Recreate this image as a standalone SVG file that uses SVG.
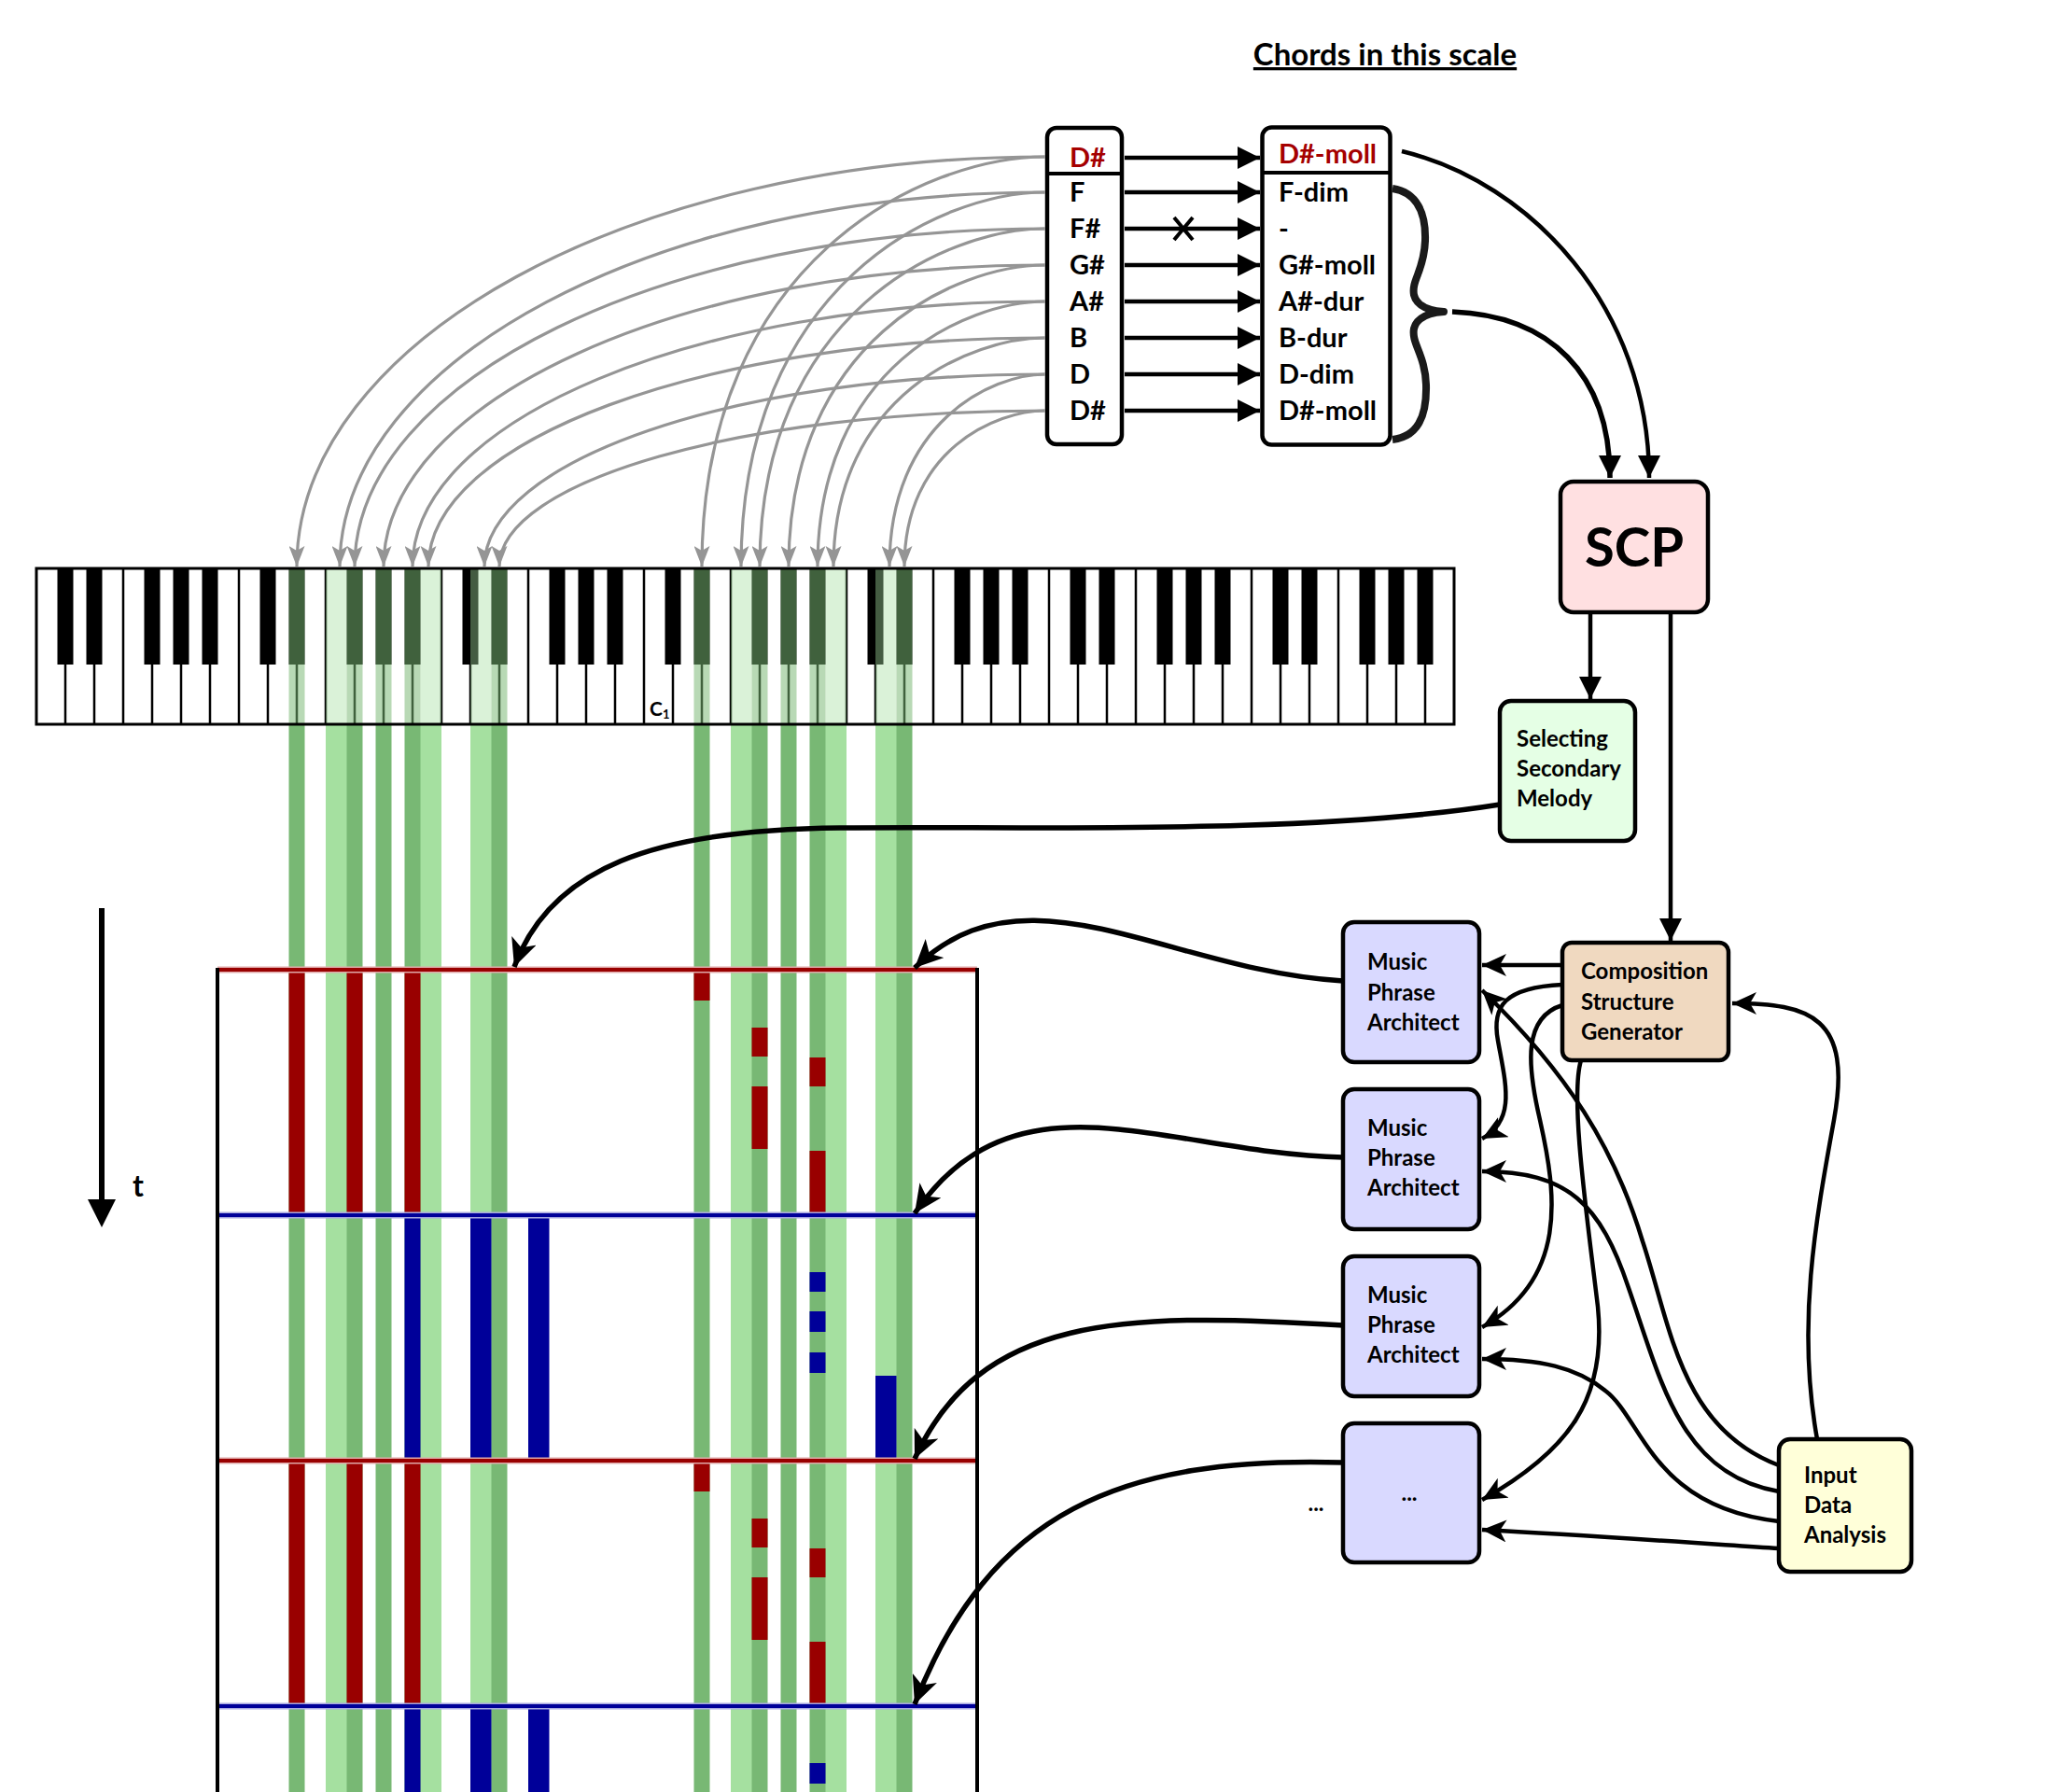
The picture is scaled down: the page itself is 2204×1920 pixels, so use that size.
<svg xmlns="http://www.w3.org/2000/svg" width="2204" height="1920" viewBox="0 0 2204 1920">
<defs>
<style>
text{font-family:Lato,"Open Sans","Liberation Sans",sans-serif;font-weight:bold;fill:#000}
.n{font-size:29px}
.b{font-size:24px}
.red{fill:#a50000}
.box{stroke:#000;stroke-width:4.5}
.wl{stroke:#000;stroke-width:2.5;fill:none}
.bk{fill:#000}
.lo{fill:#a5e0a0;opacity:.41}
.do{fill:#78b874;opacity:.53}
.lc{fill:#a5e0a0}
.dc{fill:#78b874}
.r{fill:#990000}
.u{fill:#000099}
.c{fill:none;stroke:#000;stroke-width:4.5}
.c5{fill:none;stroke:#000;stroke-width:5.5}
.g{fill:none;stroke:#959595;stroke-width:3.2}
</style>
<marker id="ab" viewBox="0 0 24 24" refX="24" refY="12" markerWidth="24" markerHeight="24" markerUnits="userSpaceOnUse" orient="auto"><path d="M0,0L24,12L0,24z"/></marker>
<marker id="ac" viewBox="0 0 26 24" refX="26" refY="12" markerWidth="26" markerHeight="24" markerUnits="userSpaceOnUse" orient="auto"><path d="M0,0L26,12L0,24L7,12z"/></marker>
<marker id="acl" viewBox="0 0 30 28" refX="30" refY="14" markerWidth="30" markerHeight="28" markerUnits="userSpaceOnUse" orient="auto"><path d="M0,0L30,14L0,28L8,14z"/></marker>
<marker id="ag" viewBox="0 0 22 17" refX="22" refY="8.5" markerWidth="22" markerHeight="17" markerUnits="userSpaceOnUse" orient="auto"><path d="M0,0L22,8.5L0,17L5,8.5z" fill="#959595"/></marker>
</defs>
<rect width="2204" height="1920" fill="#fff"/>

<g id="grid-columns">
<rect class="lc" x="349" y="776" width="31" height="1144"/>
<rect class="lc" x="442" y="776" width="31" height="1144"/>
<rect class="lc" x="504" y="776" width="31" height="1144"/>
<rect class="lc" x="783" y="776" width="31" height="1144"/>
<rect class="lc" x="876" y="776" width="31" height="1144"/>
<rect class="lc" x="938" y="776" width="31" height="1144"/>
<rect class="dc" x="309.5" y="776" width="17" height="1144"/>
<rect class="dc" x="371.5" y="776" width="17" height="1144"/>
<rect class="dc" x="402.5" y="776" width="17" height="1144"/>
<rect class="dc" x="433.5" y="776" width="17" height="1144"/>
<rect class="dc" x="526.5" y="776" width="17" height="1144"/>
<rect class="dc" x="743.5" y="776" width="17" height="1144"/>
<rect class="dc" x="805.5" y="776" width="17" height="1144"/>
<rect class="dc" x="836.5" y="776" width="17" height="1144"/>
<rect class="dc" x="867.5" y="776" width="17" height="1144"/>
<rect class="dc" x="960.5" y="776" width="17" height="1144"/>
</g>

<g id="melody-bars">
<rect class="r" x="309.5" y="1039" width="17" height="263"/>
<rect class="r" x="371.5" y="1039" width="17" height="263"/>
<rect class="r" x="433.5" y="1039" width="17" height="263"/>
<rect class="r" x="743.5" y="1039" width="17" height="33"/>
<rect class="r" x="805.5" y="1101" width="17" height="31"/>
<rect class="r" x="805.5" y="1164" width="17" height="67"/>
<rect class="r" x="867.5" y="1133" width="17" height="31"/>
<rect class="r" x="867.5" y="1233" width="17" height="69"/>
<rect class="u" x="433.5" y="1302" width="17" height="263"/>
<rect class="u" x="504" y="1302" width="22.5" height="263"/>
<rect class="u" x="566" y="1302" width="22.5" height="263"/>
<rect class="u" x="867.5" y="1363" width="17" height="21"/>
<rect class="u" x="867.5" y="1405" width="17" height="22"/>
<rect class="u" x="867.5" y="1449" width="17" height="22"/>
<rect class="u" x="938" y="1474" width="22.5" height="91"/>
<rect class="r" x="309.5" y="1565" width="17" height="263"/>
<rect class="r" x="371.5" y="1565" width="17" height="263"/>
<rect class="r" x="433.5" y="1565" width="17" height="263"/>
<rect class="r" x="743.5" y="1565" width="17" height="33"/>
<rect class="r" x="805.5" y="1627" width="17" height="31"/>
<rect class="r" x="805.5" y="1690" width="17" height="67"/>
<rect class="r" x="867.5" y="1659" width="17" height="31"/>
<rect class="r" x="867.5" y="1759" width="17" height="69"/>
<rect class="u" x="433.5" y="1828" width="17" height="92"/>
<rect class="u" x="504" y="1828" width="22.5" height="92"/>
<rect class="u" x="566" y="1828" width="22.5" height="92"/>
<rect class="u" x="867.5" y="1889" width="17" height="22"/>
</g>

<g id="grid-lines">
<path d="M233,1039H1047M233,1565H1047" stroke="#e0a8a8" stroke-width="7"/>
<path d="M233,1039H1047M233,1565H1047" stroke="#990000" stroke-width="4"/>
<path d="M233,1302H1047M233,1828H1047" stroke="#a8a8e0" stroke-width="7"/>
<path d="M233,1302H1047M233,1828H1047" stroke="#000099" stroke-width="4"/>
<path d="M233,1037V1920M1047,1037V1920" stroke="#000" stroke-width="4"/>
</g>

<g id="time-axis">
<line x1="109" y1="973" x2="109" y2="1290" stroke="#000" stroke-width="6"/>
<polygon points="94,1285 124,1285 109,1315"/>
<text x="142" y="1282" font-size="32">t</text>
</g>

<g id="piano">
<rect x="39" y="609" width="1519" height="167" fill="#fff"/>
<path class="wl" d="M70,609V776M101,609V776M132,609V776M163,609V776M194,609V776M225,609V776M256,609V776M287,609V776M318,609V776M349,609V776M380,609V776M411,609V776M442,609V776M473,609V776M504,609V776M535,609V776M566,609V776M597,609V776M628,609V776M659,609V776M690,609V776M721,609V776M752,609V776M783,609V776M814,609V776M845,609V776M876,609V776M907,609V776M938,609V776M969,609V776M1000,609V776M1031,609V776M1062,609V776M1093,609V776M1124,609V776M1155,609V776M1186,609V776M1217,609V776M1248,609V776M1279,609V776M1310,609V776M1341,609V776M1372,609V776M1403,609V776M1434,609V776M1465,609V776M1496,609V776M1527,609V776"/>
<path class="bk" d="M61.5,609h17v103h-17zM92.5,609h17v103h-17zM154.5,609h17v103h-17zM185.5,609h17v103h-17zM216.5,609h17v103h-17zM278.5,609h17v103h-17zM309.5,609h17v103h-17zM371.5,609h17v103h-17zM402.5,609h17v103h-17zM433.5,609h17v103h-17zM495.5,609h17v103h-17zM526.5,609h17v103h-17zM588.5,609h17v103h-17zM619.5,609h17v103h-17zM650.5,609h17v103h-17zM712.5,609h17v103h-17zM743.5,609h17v103h-17zM805.5,609h17v103h-17zM836.5,609h17v103h-17zM867.5,609h17v103h-17zM929.5,609h17v103h-17zM960.5,609h17v103h-17zM1022.5,609h17v103h-17zM1053.5,609h17v103h-17zM1084.5,609h17v103h-17zM1146.5,609h17v103h-17zM1177.5,609h17v103h-17zM1239.5,609h17v103h-17zM1270.5,609h17v103h-17zM1301.5,609h17v103h-17zM1363.5,609h17v103h-17zM1394.5,609h17v103h-17zM1456.5,609h17v103h-17zM1487.5,609h17v103h-17zM1518.5,609h17v103h-17z"/>
<rect class="lo" x="349" y="609" width="22.5" height="167"/>
<rect class="lo" x="450.5" y="609" width="22.5" height="167"/>
<rect class="lo" x="504" y="609" width="22.5" height="167"/>
<rect class="lo" x="783" y="609" width="22.5" height="167"/>
<rect class="lo" x="884.5" y="609" width="22.5" height="167"/>
<rect class="lo" x="938" y="609" width="22.5" height="167"/>
<rect class="do" x="309.5" y="609" width="17" height="167"/>
<rect class="do" x="371.5" y="609" width="17" height="167"/>
<rect class="do" x="402.5" y="609" width="17" height="167"/>
<rect class="do" x="433.5" y="609" width="17" height="167"/>
<rect class="do" x="526.5" y="609" width="17" height="167"/>
<rect class="do" x="743.5" y="609" width="17" height="167"/>
<rect class="do" x="805.5" y="609" width="17" height="167"/>
<rect class="do" x="836.5" y="609" width="17" height="167"/>
<rect class="do" x="867.5" y="609" width="17" height="167"/>
<rect class="do" x="960.5" y="609" width="17" height="167"/>
<rect x="39" y="609" width="1519" height="167" fill="none" stroke="#000" stroke-width="3"/>
<text x="696" y="767" font-size="21">C<tspan font-size="13" dy="3">1</tspan></text>
</g>

<text id="title" x="1484" y="70" text-anchor="middle" font-size="33" text-decoration="underline">Chords in this scale</text>

<g id="scale-notes">
<rect class="box" x="1122" y="137" width="80" height="339" rx="10" fill="#fff"/>
<line x1="1122" y1="186" x2="1202" y2="186" stroke="#000" stroke-width="4"/>
<text class="n red" x="1146" y="179">D#</text>
<text class="n" x="1146" y="216">F</text>
<text class="n" x="1146" y="255">F#</text>
<text class="n" x="1146" y="294">G#</text>
<text class="n" x="1146" y="333">A#</text>
<text class="n" x="1146" y="372">B</text>
<text class="n" x="1146" y="411">D</text>
<text class="n" x="1146" y="450">D#</text>
</g>

<g id="chords">
<rect class="box" x="1352.5" y="136.5" width="137" height="340" rx="10" fill="#fff"/>
<line x1="1352.5" y1="185" x2="1489.5" y2="185" stroke="#000" stroke-width="4"/>
<text class="n red" x="1370" y="175">D#-moll</text>
<text class="n" x="1370" y="216">F-dim</text>
<text class="n" x="1370" y="255">-</text>
<text class="n" x="1370" y="294">G#-moll</text>
<text class="n" x="1370" y="333">A#-dur</text>
<text class="n" x="1370" y="372">B-dur</text>
<text class="n" x="1370" y="411">D-dim</text>
<text class="n" x="1370" y="450">D#-moll</text>
</g>

<path id="brace" d="M1492,202 C1518,206 1528,228 1527,258 C1526,290 1512,300 1515,316 C1518,328 1532,333 1547,334 C1532,335 1518,340 1515,352 C1512,368 1527,380 1528,412 C1529,448 1518,468 1492,471" fill="none" stroke="#1a1a1a" stroke-width="8" stroke-linejoin="round"/>

<g id="scp">
<rect class="box" x="1672" y="516" width="158" height="140" rx="14" fill="#ffe0e1"/>
<text x="1751" y="607" text-anchor="middle" font-size="58">SCP</text>
</g>

<g id="selecting-secondary-melody">
<rect class="box" x="1607" y="751" width="145" height="150" rx="12" fill="#e5ffe5"/>
<text class="b" x="1625" y="800">Selecting</text>
<text class="b" x="1625" y="832">Secondary</text>
<text class="b" x="1625" y="864">Melody</text>
</g>

<g id="composition-structure-generator">
<rect class="box" x="1674" y="1010" width="178" height="126" rx="10" fill="#f0d9c0"/>
<text class="b" x="1694" y="1049">Composition</text>
<text class="b" x="1694" y="1082">Structure</text>
<text class="b" x="1694" y="1114">Generator</text>
</g>

<g id="mpa-1">
<rect class="box" x="1439" y="988" width="146" height="150" rx="12" fill="#d9d9ff"/>
<text class="b" x="1465" y="1039">Music</text>
<text class="b" x="1465" y="1072">Phrase</text>
<text class="b" x="1465" y="1104">Architect</text>
</g>
<g id="mpa-2">
<rect class="box" x="1439" y="1167" width="146" height="150" rx="12" fill="#d9d9ff"/>
<text class="b" x="1465" y="1217">Music</text>
<text class="b" x="1465" y="1249">Phrase</text>
<text class="b" x="1465" y="1281">Architect</text>
</g>
<g id="mpa-3">
<rect class="box" x="1439" y="1346" width="146" height="150" rx="12" fill="#d9d9ff"/>
<text class="b" x="1465" y="1396">Music</text>
<text class="b" x="1465" y="1428">Phrase</text>
<text class="b" x="1465" y="1460">Architect</text>
</g>
<g id="mpa-more">
<rect class="box" x="1439" y="1525" width="146" height="149" rx="12" fill="#d9d9ff"/>
<text class="b" x="1510" y="1608" text-anchor="middle">...</text>
</g>
<text id="more-label" class="b" x="1410" y="1619" text-anchor="middle">...</text>

<g id="input-data-analysis">
<rect class="box" x="1906" y="1542" width="142" height="142" rx="12" fill="#ffffd9"/>
<text class="b" x="1933" y="1589">Input</text>
<text class="b" x="1933" y="1621">Data</text>
<text class="b" x="1933" y="1653">Analysis</text>
</g>

<g id="connectors">
<g marker-end="url(#ag)">
<path class="g" d="M1120,168 C677,168 318,365 318,607"/>
<path class="g" d="M1120,168 C991,168 752,278 752,607"/>
<path class="g" d="M1120,206 C703,206 364,386 364,607"/>
<path class="g" d="M1120,206 C1006,206 794,306 794,607"/>
<path class="g" d="M1120,245 C712,245 380,407 380,607"/>
<path class="g" d="M1120,245 C1013,245 814,336 814,607"/>
<path class="g" d="M1120,284 C729,284 411,429 411,607"/>
<path class="g" d="M1120,284 C1024,284 845,365 845,607"/>
<path class="g" d="M1120,323 C746,323 442,450 442,607"/>
<path class="g" d="M1120,323 C1035,323 876,394 876,607"/>
<path class="g" d="M1120,362 C755,362 459,472 459,607"/>
<path class="g" d="M1120,362 C1041,362 893,423 893,607"/>
<path class="g" d="M1120,401 C788,401 519,493 519,607"/>
<path class="g" d="M1120,401 C1062,401 953,453 953,607"/>
<path class="g" d="M1120,440 C797,440 535,515 535,607"/>
<path class="g" d="M1120,440 C1067,440 969,482 969,607"/>
</g>
<g marker-end="url(#ab)">
<path class="c" d="M1205,169H1350"/>
<path class="c" d="M1205,206H1350"/>
<path class="c" d="M1205,245H1350"/>
<path class="c" d="M1205,284H1350"/>
<path class="c" d="M1205,323H1350"/>
<path class="c" d="M1205,362H1350"/>
<path class="c" d="M1205,401H1350"/>
<path class="c" d="M1205,440H1350"/>
<path class="c" d="M1502,162 C1640,195 1767,330 1767,512"/>
<path class="c5" d="M1556,334 C1660,338 1725,400 1725,512"/>
<path class="c" d="M1704,658V749"/>
<path class="c" d="M1790,658V1008"/>
</g>
<path d="M1258,233L1278,257M1278,233L1258,257" stroke="#000" stroke-width="4"/>
<g marker-end="url(#ac)">
<path class="c" d="M1674,1034H1588"/>
<path class="c" d="M1674,1055 C1612,1058 1598,1078 1605,1115 C1613,1160 1625,1200 1588,1220"/>
<path class="c" d="M1674,1077 C1632,1090 1636,1140 1650,1200 C1668,1280 1680,1370 1588,1422"/>
<path class="c" d="M1694,1136 C1682,1175 1700,1300 1712,1400 C1722,1500 1680,1555 1588,1607"/>
<path class="c" d="M1947,1542 C1925,1420 1945,1310 1965,1200 C1985,1090 1940,1075 1856,1075"/>
<path class="c" d="M1906,1570 C1800,1530 1790,1420 1760,1330 C1730,1230 1680,1150 1588,1061"/>
<path class="c" d="M1906,1598 C1800,1580 1780,1480 1745,1380 C1715,1290 1680,1255 1588,1255"/>
<path class="c" d="M1906,1630 C1770,1615 1760,1520 1720,1490 C1690,1465 1650,1456 1588,1456"/>
<path class="c" d="M1906,1659 C1800,1652 1700,1645 1588,1639"/>
</g>
<g marker-end="url(#acl)">
<path class="c5" d="M1607,862 C1400,895 1100,885 900,887 C700,889 590,930 551,1036"/>
<path class="c5" d="M1439,1051 C1250,1040 1100,920 980,1037"/>
<path class="c5" d="M1439,1240 C1250,1236 1090,1140 980,1300"/>
<path class="c5" d="M1439,1420 C1200,1405 1050,1410 980,1563"/>
<path class="c5" d="M1439,1567 C1200,1560 1060,1620 980,1826"/>
</g>
</g>
</svg>
